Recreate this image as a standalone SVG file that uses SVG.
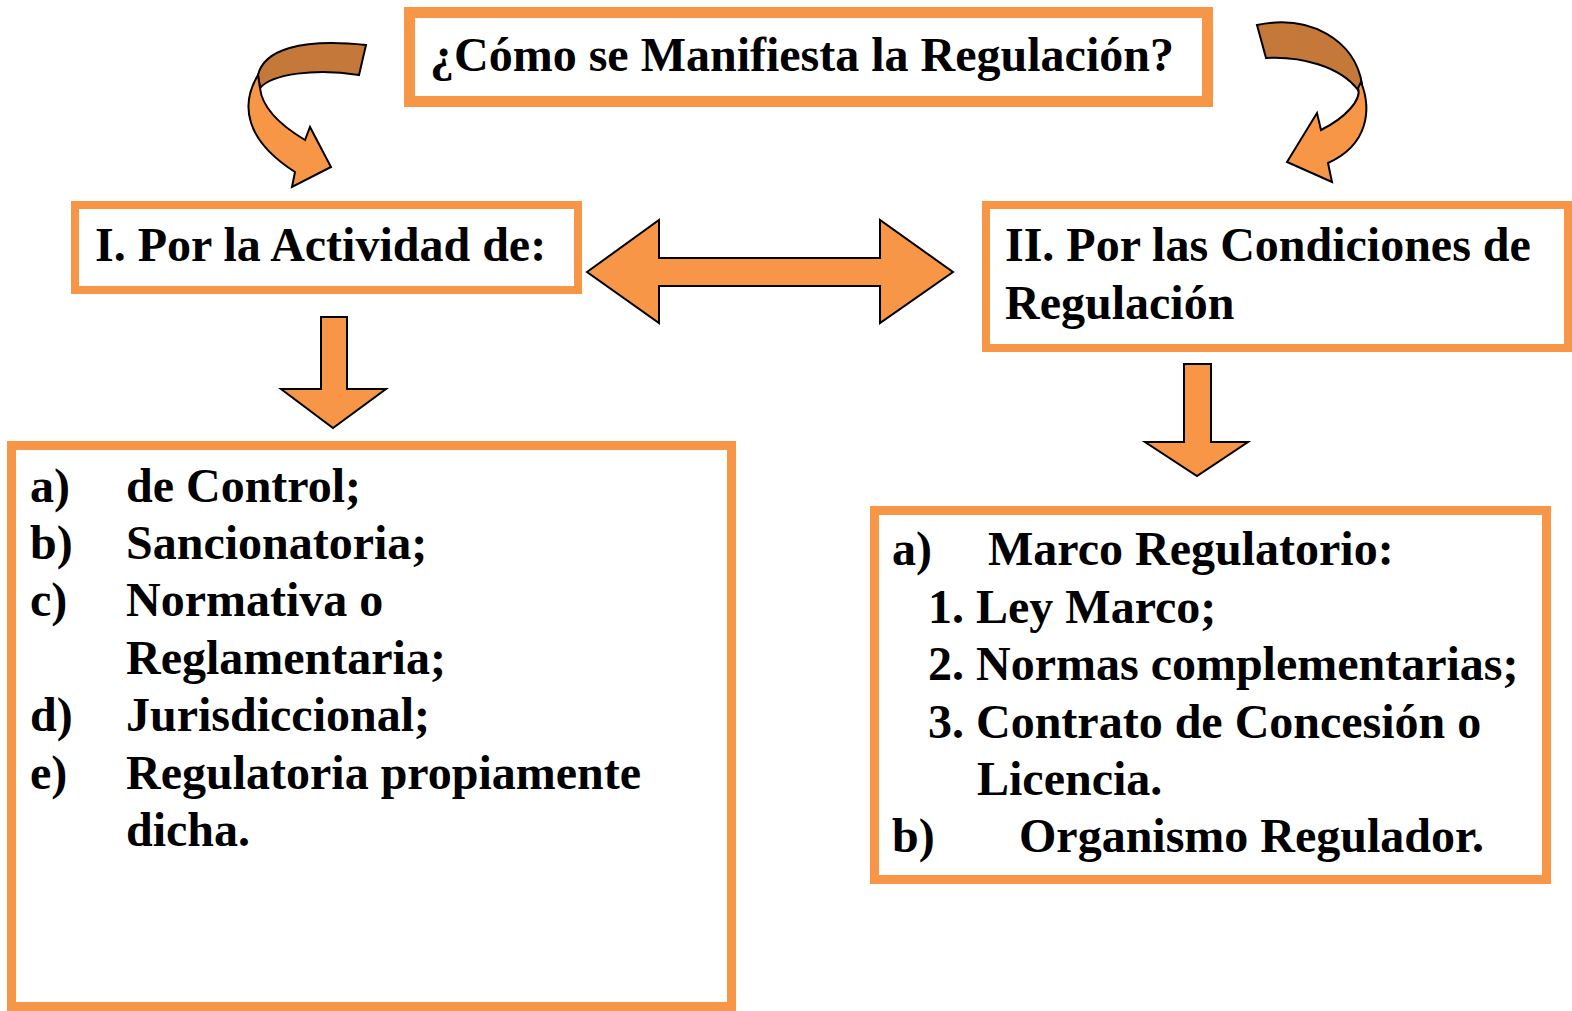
<svg xmlns="http://www.w3.org/2000/svg" width="1572" height="1011" viewBox="0 0 1572 1011">
<style>
.box{fill:#fff;stroke:#F79646}
.t{font-family:"Liberation Serif","Times New Roman",serif;font-weight:bold;font-size:48px;fill:#000}
.ar{fill:#F79646;stroke:#000;stroke-width:2;stroke-linejoin:miter}
.dk{fill:#C4793A;stroke:#000;stroke-width:2}
</style>
<rect width="1572" height="1011" fill="#fff"/>
<g id="connectors">
<path class="dk" d="M258,75 C264,50 300,38 366,45 L359,75 C315,68 272,74 260,88 Z"/>
<path class="ar" d="M258,75 C240,105 245,140 295,172 L292,187 L331,167 L310,127 L305,140 C280,125 262,108 260,88 Z"/>
<path class="dk" d="M1257,25 C1310,14 1355,40 1362,84 L1358,90 C1340,66 1300,56 1266,58 Z"/>
<path class="ar" d="M1361,82 C1372,110 1368,145 1328,163 L1332,182 L1287,162 L1317,113 L1321,130 C1345,118 1362,100 1358,88 Z"/>
<polygon class="ar" points="587,272 659,220 659,258 880,258 880,220 953,272 880,323 880,286 659,286 659,323"/>
<polygon class="ar" points="321,317 347,317 347,389 386,389 333,428 281,389 321,389"/>
<polygon class="ar" points="1184,364 1211,364 1211,442 1248,442 1197,476 1145,442 1184,442"/>
</g>
<g id="title">
<rect class="box" x="409.5" y="12.5" width="798" height="89" stroke-width="11"/>
<text class="t" x="430" y="71">¿Cómo se Manifiesta la Regulación?</text>
</g>
<g id="actividad">
<rect class="box" x="75" y="205" width="503" height="85" stroke-width="8"/>
<text class="t" x="95" y="261">I. Por la Actividad de:</text>
</g>
<g id="condiciones">
<rect class="box" x="986" y="205" width="582" height="143" stroke-width="8"/>
<text class="t" x="1005" y="261">II. Por las Condiciones de</text>
<text class="t" x="1005" y="319">Regulación</text>
</g>
<g id="lista-actividad">
<rect class="box" x="11.5" y="445.5" width="720" height="561" stroke-width="9"/>
<text class="t" x="30" y="502">a)</text><text class="t" x="126" y="502">de Control;</text>
<text class="t" x="30" y="559">b)</text><text class="t" x="126" y="559">Sancionatoria;</text>
<text class="t" x="30" y="616">c)</text><text class="t" x="126" y="616">Normativa o</text>
<text class="t" x="126" y="674">Reglamentaria;</text>
<text class="t" x="30" y="731">d)</text><text class="t" x="126" y="731">Jurisdiccional;</text>
<text class="t" x="30" y="789">e)</text><text class="t" x="126" y="789">Regulatoria propiamente</text>
<text class="t" x="126" y="846">dicha.</text>
</g>
<g id="lista-condiciones">
<rect class="box" x="874.5" y="510.5" width="672" height="369" stroke-width="9"/>
<text class="t" x="892" y="565">a)</text><text class="t" x="988" y="565">Marco Regulatorio:</text>
<text class="t" x="928" y="623">1. Ley Marco;</text>
<text class="t" x="928" y="680">2. Normas complementarias;</text>
<text class="t" x="928" y="738">3. Contrato de Concesión o</text>
<text class="t" x="977" y="795">Licencia.</text>
<text class="t" x="892" y="852">b)</text><text class="t" x="1019" y="852">Organismo Regulador.</text>
</g>
</svg>
